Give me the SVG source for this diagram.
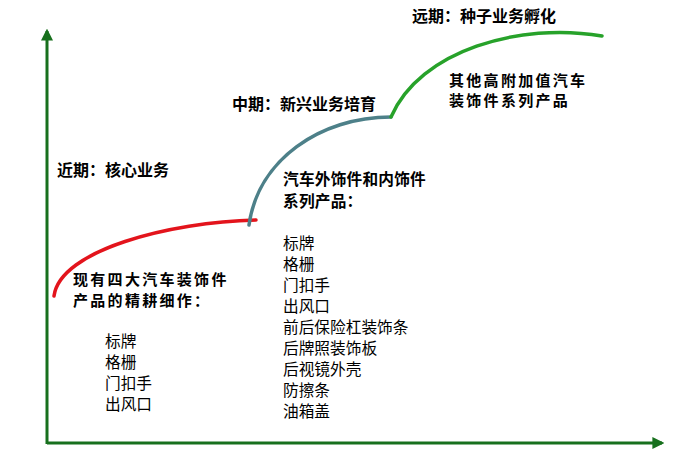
<svg xmlns="http://www.w3.org/2000/svg" width="688" height="457" viewBox="0 0 688 457">
<style>
text{font-family:"Noto Sans CJK SC","Liberation Sans",sans-serif;fill:#000}
.h{font-size:16px;font-weight:bold}
.h2{font-size:15.7px;font-weight:bold;letter-spacing:0.2px}
.b{font-size:15px;font-weight:bold;letter-spacing:2.3px}
.l{font-size:15.7px}
.axis{stroke:#17701d;stroke-width:3;fill:none}
.curve{fill:none;stroke-width:3.5;stroke-linecap:round}
</style>
<defs>
<marker id="ah" viewBox="0 0 10 10" refX="8" refY="5" markerWidth="4" markerHeight="4" orient="auto" markerUnits="strokeWidth">
<path d="M0,0 L10,5 L0,10 z" fill="#17701d"/>
</marker>
</defs>
<g id="connectors">
<path class="axis" d="M47,444 L47,31" marker-end="url(#ah)"/>
<path class="axis" d="M47,443 L662,443" marker-end="url(#ah)"/>
<path class="curve" stroke="#e3141c" d="M54,296 C 60,250 170,222 256,220"/>
<path class="curve" stroke="#4d8089" d="M249,225 C 258,160 320,117 391,117"/>
<path class="curve" stroke="#27a22a" d="M391,117 C 420,50 520,22 602,36"/>
</g>
<g id="near">
<text class="h" x="57" y="176">近期：核心业务</text>
<text class="b"><tspan x="73" y="285">现有四大汽车装饰件</tspan><tspan x="73" y="306">产品的精耕细作：</tspan></text>
<text class="l" x="105" y="347">标牌</text>
<text class="l" x="105" y="368">格栅</text>
<text class="l" x="105" y="389">门扣手</text>
<text class="l" x="105" y="410">出风口</text>
</g>
<g id="mid">
<text class="h" x="232" y="110">中期：新兴业务培育</text>
<text class="h2"><tspan x="283" y="185">汽车外饰件和内饰件</tspan><tspan x="283" y="207">系列产品：</tspan></text>
<text class="l" x="283" y="249">标牌</text>
<text class="l" x="283" y="270">格栅</text>
<text class="l" x="283" y="291">门扣手</text>
<text class="l" x="283" y="312">出风口</text>
<text class="l" x="283" y="333">前后保险杠装饰条</text>
<text class="l" x="283" y="354">后牌照装饰板</text>
<text class="l" x="283" y="375">后视镜外壳</text>
<text class="l" x="283" y="396">防擦条</text>
<text class="l" x="283" y="417">油箱盖</text>
</g>
<g id="far">
<text class="h" x="412" y="22">远期：种子业务孵化</text>
<text class="b"><tspan x="449" y="86">其他高附加值汽车</tspan><tspan x="449" y="106">装饰件系列产品</tspan></text>
</g>
</svg>
